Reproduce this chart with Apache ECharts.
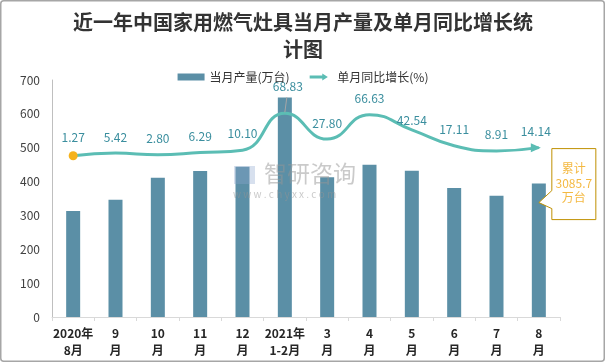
<!DOCTYPE html>
<html><head><meta charset="utf-8">
<script src="https://cdn.jsdelivr.net/npm/echarts@6/dist/echarts.min.js"></script>
<style>html,body{margin:0;padding:0;background:#fff}#c{width:606px;height:363px}</style>
</head><body><div id="c"></div>
<script>
// ---- data ----
const categories = ['2020年\n8月','9\n月','10\n月','11\n月','12\n月','2021年\n1-2月','3\n月','4\n月','5\n月','6\n月','7\n月','8\n月'];
const output = [313, 346, 411, 431, 444, 648, 413, 450, 432, 381, 358, 394];
const growth = [1.27, 5.42, 2.80, 6.29, 10.10, 68.83, 27.80, 66.63, 42.54, 17.11, 8.91, 14.14];
const seriesNames = ['当月产量(万台)', '单月同比增长(%)'];
const cumulativeLines = ['累计', '3085.7', '万台'];
const titleText = '近一年中国家用燃气灶具当月产量及单月同比增长统\n计图';

const FONT = '"Noto Sans CJK SC", "Noto Sans", sans-serif';
const BAR = '#5b8fa6';
const LINE = '#5bbdb4';

const lineData = growth.map((v, i) => {
  if (i === 0) return { value: v, symbol: 'circle', symbolSize: 9, itemStyle: { color: '#f5b21c' } };
  if (i === growth.length - 1) return { value: v, symbol: 'triangle', symbolSize: [9, 10], symbolRotate: -90, symbolOffset: [-3, 0], itemStyle: { color: LINE } };
  return v;
});

function labelShift(idx) {
  if (idx === 0) return { dx: 0, dy: -18 };
  if (idx === 5) return { dx: 3, dy: -27 };
  if (idx === 8) return { dx: 0, dy: -9 };
  if (idx === 4) return { dx: 0, dy: -17 };
  return { dx: 0, dy: -16 };
}

const chart = echarts.init(document.getElementById('c'), null, { renderer: 'canvas' });
chart.setOption({
  animation: false,
  backgroundColor: '#fff',
  title: {
    text: titleText, left: 'center', top: 9, padding: 0,
    textStyle: { fontFamily: FONT, fontSize: 20, fontWeight: 'bold', color: '#333', lineHeight: 27 }
  },
  legend: {
    top: 66, left: 'center', itemWidth: 27, itemHeight: 7, itemGap: 20,
    textStyle: { fontFamily: FONT, fontSize: 12, color: '#333' },
    data: [
      { name: seriesNames[0], icon: 'rect', itemStyle: { color: BAR } },
      { name: seriesNames[1], icon: 'path://M0,3 L18,3 L18,0 L26,5 L18,10 L18,7 L0,7 Z', itemStyle: { color: LINE } }
    ]
  },
  grid: { left: 52, right: 46, top: 80, bottom: 46 },
  xAxis: {
    type: 'category', data: categories,
    axisLine: { lineStyle: { color: '#d9d9d9', width: 1 } },
    axisTick: { show: true, length: 4, lineStyle: { color: '#d9d9d9' } },
    axisLabel: { interval: 0, margin: 8, fontFamily: FONT, fontSize: 12, fontWeight: 'bold', color: '#262626', lineHeight: 17 }
  },
  yAxis: [
    {
      type: 'value', min: 0, max: 700, interval: 100,
      axisLine: { show: true, lineStyle: { color: '#bfbfbf' } },
      axisTick: { show: false }, splitLine: { show: false },
      axisLabel: { fontFamily: FONT, fontSize: 12, color: '#404040', margin: 12 }
    },
    { type: 'value', min: -256, max: 122, show: false, splitLine: { show: false } }
  ],
  series: [
    {
      name: seriesNames[0], type: 'bar', data: output, barWidth: 14,
      itemStyle: { color: BAR }
    },
    {
      name: seriesNames[1], type: 'line', yAxisIndex: 1, data: lineData,
      smooth: 0.5, showSymbol: true, showAllSymbol: true,
      symbol: 'circle', symbolSize: 1,
      itemStyle: { color: 'rgba(0,0,0,0)' },
      lineStyle: { color: LINE, width: 3 },
      label: {
        show: true, position: 'inside', color: '#3a8e9e', fontFamily: FONT, fontSize: 12,
        formatter: p => p.value.toFixed(2)
      },
      labelLayout: p => labelShift(p.dataIndex),
      z: 3
    }
  ]
});

// callout anchored to the last bar
const lastIdx = output.length - 1;
const barTop = chart.convertToPixel({ seriesIndex: 0 }, [lastIdx, output[lastIdx]]);
const tipX = barTop[0], tipY = barTop[1] + 19;
const bx = tipX + 13, by = tipY - 54, bw = 44, bh = 71;
// leader line for the peak label
const peakIdx = growth.indexOf(Math.max(...growth));
const peakPt = chart.convertToPixel({ seriesIndex: 1 }, [peakIdx, growth[peakIdx]]);
chart.setOption({
  graphic: [
    { type: 'rect', silent: true, shape: { x: 0.75, y: 0.75, width: 603.5, height: 360.5, r: 3 }, style: { fill: 'none', stroke: '#a6a6a6', lineWidth: 1.5 }, z: 100 },
    { type: 'line', silent: true, z: 10, shape: { x1: peakPt[0], y1: peakPt[1] - 1, x2: peakPt[0] + 2, y2: peakPt[1] - 16 }, style: { stroke: '#a6a6a6', lineWidth: 1 } },
    {
      type: 'polygon', silent: true, z: 50,
      shape: { points: [[bx, by], [bx + bw, by], [bx + bw, by + bh], [bx, by + bh], [bx, tipY + 6], [tipX, tipY], [bx, tipY - 12]] },
      style: { fill: '#fff', stroke: '#bf9000', lineWidth: 1 }
    },
    {
      type: 'text', silent: true, z: 51, x: bx + bw / 2, y: by + bh / 2 - 1,
      style: { text: cumulativeLines.join('\n'), fill: '#f4b942', font: '12px ' + FONT, align: 'center', verticalAlign: 'middle', lineHeight: 14.5 }
    },
    // watermark
    { type: 'rect', silent: true, z: 20, shape: { x: 234, y: 166, width: 21, height: 18 }, style: { fill: 'rgba(140,165,205,0.35)' } },
    { type: 'text', silent: true, z: 20, x: 264, y: 162, style: { text: '智研咨询', fill: 'rgba(150,150,150,0.5)', font: '23px ' + FONT, letterSpacing: 4 } },
    { type: 'text', silent: true, z: 20, x: 233, y: 189, style: { text: 'w w w . c h y x x . c o m', fill: 'rgba(150,150,150,0.5)', font: '10px ' + FONT, letterSpacing: 1.6 } }
  ]
});
</script>
</body></html>
